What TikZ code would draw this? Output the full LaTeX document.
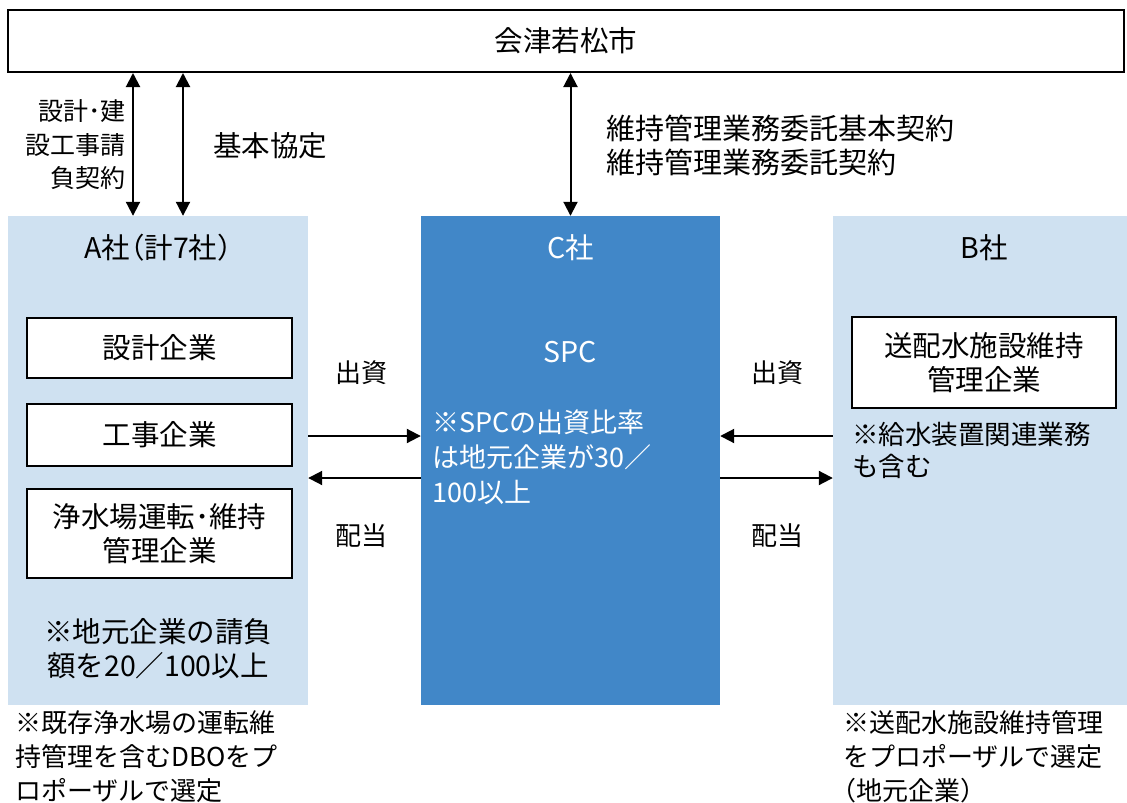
\documentclass[tikz,border=0pt]{standalone}
\usepackage{fontspec}
\setmainfont{Noto Sans CJK JP}
\usetikzlibrary{arrows.meta}
\definecolor{panel}{HTML}{CFE1F1}
\definecolor{cblue}{HTML}{4187C8}
\newcommand{\hw}[1]{{\addfontfeature{RawFeature=+halt}#1}}
\tikzset{
  every node/.style={font=\fontsize{28.5}{35}\selectfont, inner sep=0pt},
  small/.style={font=\fontsize{26}{34}\selectfont},
  frame/.style={draw=black, line width=2pt, fill=white},
  panelbox/.style={fill=panel, draw=none},
  arr/.style={line width=2pt, -{Triangle[length=14pt,width=14pt]}},
  darr/.style={line width=2pt, {Triangle[length=14pt,width=14pt]}-{Triangle[length=14pt,width=14pt]}},
  lbl/.style={align=left, anchor=west},
}
\begin{document}
\begin{tikzpicture}[x=1pt,y=-1pt]
\useasboundingbox (0,0) rectangle (1127,803);
% city
\node[frame, minimum width=1116pt, minimum height=62pt] (city) at (566,41) {会津若松市};
% panels
\node[panelbox, minimum width=300pt, minimum height=489pt] (A) at (158,460.5) {};
\node[fill=cblue, minimum width=299pt, minimum height=489pt] (C) at (570.5,460.5) {};
\node[panelbox, minimum width=294pt, minimum height=489pt] (B) at (980,460.5) {};
% titles
\node (At) at (158,248) {A社\hw{（}計7社\hw{）}};
\node[text=white] (Ct) at (570.5,248) {C社};
\node (Bt) at (984,248) {B社};
\node[text=white] (spc) at (570.5,352) {SPC};
\node[text=white, lbl, font=\fontsize{27}{35}\selectfont] (spcn) at (432,457) {※SPCの出資比率\\は地元企業が30／\\100以上};
% inner boxes A
\node[frame, minimum width=265pt, minimum height=60pt] (d1) at (159.5,348) {設計企業};
\node[frame, minimum width=265pt, minimum height=62pt] (d2) at (159.5,435) {工事企業};
\node[frame, minimum width=265pt, minimum height=89pt, align=center, font=\fontsize{28.5}{34}\selectfont] (d3) at (159.5,533.5) {浄水場運転･維持\\管理企業};
\node[align=center, font=\fontsize{28.5}{34}\selectfont] (An) at (158,649) {※地元企業の請負\\額を20／100以上};
% inner box B
\node[frame, minimum width=264pt, minimum height=91pt, align=center, font=\fontsize{28.5}{34}\selectfont] (b1) at (984,362.5) {送配水施設維持\\管理企業};
\node[lbl, font=\fontsize{26.5}{32}\selectfont] (Bn) at (852,450) {※給水装置関連業務\\も含む};
% bottom notes
\node[lbl, small] (An2) at (15,757) {※既存浄水場の運転維\\持管理を含むDBOをプ\\ロポーザルで選定};
\node[lbl, small] (Bn2) at (843,757) {※送配水施設維持管理\\をプロポーザルで選定\\\hw{（}地元企業\hw{）}};
% vertical arrows
\coordinate (x1) at (133,0);
\coordinate (x2) at (183,0);
\coordinate (x3) at (570.5,0);
\draw[darr] (city.south -| x1) -- (A.north -| x1);
\draw[darr] (city.south -| x2) -- (A.north -| x2);
\draw[darr] (city.south -| x3) -- (C.north);
\node[align=right, anchor=east, font=\fontsize{25}{33.5}\selectfont] (l1) at (126,145) {設計･建\\設工事請\\負契約};
\node[lbl] (l2) at (213,146) {基本協定};
\node[lbl, font=\fontsize{29}{34}\selectfont] (l3) at (606,145) {維持管理業務委託基本契約\\維持管理業務委託契約};
% horizontal arrows
\coordinate (y1) at (0,436);
\coordinate (y2) at (0,478);
\draw[arr] (A.east |- y1) -- (C.west |- y1);
\draw[arr] (C.west |- y2) -- (A.east |- y2);
\draw[arr] (B.west |- y1) -- (C.east |- y1);
\draw[arr] (C.east |- y2) -- (B.west |- y2);
\node[small] (k1) at (361,373) {出資};
\node[small] (k2) at (361,536) {配当};
\node[small] (k3) at (777,373) {出資};
\node[small] (k4) at (777,536) {配当};
\end{tikzpicture}
\end{document}
